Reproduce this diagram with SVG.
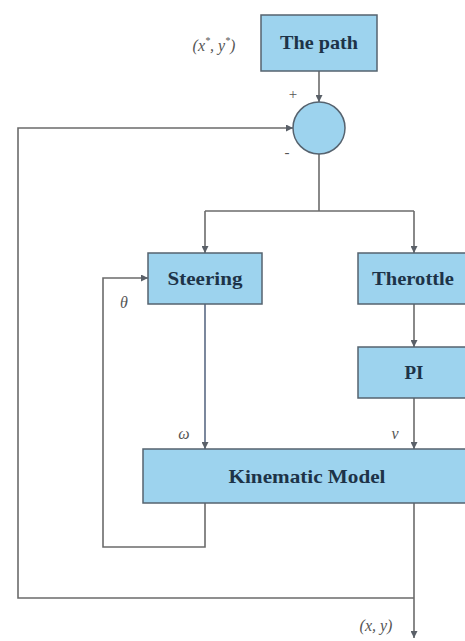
<svg xmlns="http://www.w3.org/2000/svg" width="465" height="641" viewBox="0 0 465 641">
<style>
.box{fill:#9dd3ee;stroke:#56636f;stroke-width:1.5}
.lbl{font-family:"Liberation Serif",serif;font-weight:bold;font-size:19px;fill:#1d3348;text-anchor:middle}
.it{font-family:"Liberation Serif",serif;font-style:italic;font-size:16px;fill:#555;text-anchor:middle}
.sym{font-family:"Liberation Serif",serif;font-size:15px;fill:#555;text-anchor:middle}
.ln{fill:none;stroke:#6b6b6b;stroke-width:1.6}
</style>
<defs>
<marker id="ah" viewBox="0 0 10 10" refX="10" refY="5" markerWidth="7" markerHeight="7" orient="auto" markerUnits="userSpaceOnUse">
<path d="M0,0 L10,5 L0,10 z" fill="#5a6068"/>
</marker>
</defs>
<rect width="465" height="641" fill="#ffffff"/>
<g id="connectors">
<line class="ln" x1="319" y1="71" x2="319" y2="102" marker-end="url(#ah)"/>
<polyline class="ln" points="414,598 18,598 18,128 293,128" marker-end="url(#ah)"/>
<polyline class="ln" points="319,154 319,211"/>
<polyline class="ln" points="205,211 414,211"/>
<line class="ln" x1="205" y1="211" x2="205" y2="253" marker-end="url(#ah)"/>
<line class="ln" x1="414" y1="211" x2="414" y2="253" marker-end="url(#ah)"/>
<line class="ln" x1="414" y1="304" x2="414" y2="347" marker-end="url(#ah)"/>
<line class="ln" x1="205" y1="304" x2="205" y2="449" marker-end="url(#ah)" style="stroke:#5b6a84"/>
<line class="ln" x1="414" y1="398" x2="414" y2="449" marker-end="url(#ah)"/>
<polyline class="ln" points="205,503 205,547 103,547 103,278 148,278" marker-end="url(#ah)"/>
<line class="ln" x1="414" y1="503" x2="414" y2="638" marker-end="url(#ah)"/>
</g>
<g id="path">
<rect class="box" x="261" y="15" width="116" height="56"/>
<text class="lbl" x="319" y="49" textLength="78" lengthAdjust="spacingAndGlyphs">The path</text>
</g>
<g id="sum">
<circle cx="319" cy="128" r="26" fill="#9dd3ee" stroke="#56636f" stroke-width="1.5"/>
<text class="sym" x="293" y="99">+</text>
<text class="sym" x="287" y="157">-</text>
</g>
<g id="steering">
<rect class="box" x="148" y="253" width="114" height="51"/>
<text class="lbl" x="205" y="285" textLength="75" lengthAdjust="spacingAndGlyphs">Steering</text>
</g>
<g id="therottle">
<rect class="box" x="358" y="253" width="112" height="51"/>
<text class="lbl" x="413" y="285" textLength="82" lengthAdjust="spacingAndGlyphs">Therottle</text>
</g>
<g id="pi">
<rect class="box" x="358" y="347" width="112" height="51"/>
<text class="lbl" x="414" y="379">PI</text>
</g>
<g id="kinematic">
<rect class="box" x="143" y="449" width="327" height="54"/>
<text class="lbl" x="307" y="483" textLength="157" lengthAdjust="spacingAndGlyphs">Kinematic Model</text>
</g>
<g id="labels">
<text class="it" x="214" y="51">(x<tspan font-size="10" dy="-7">*</tspan><tspan dy="7">, y</tspan><tspan font-size="10" dy="-7">*</tspan><tspan dy="7">)</tspan></text>
<text class="it" x="124" y="308">θ</text>
<text class="it" x="184" y="439">ω</text>
<text class="it" x="395" y="439">v</text>
<text class="it" x="376" y="631" font-size="18">(x, y)</text>
</g>
</svg>
